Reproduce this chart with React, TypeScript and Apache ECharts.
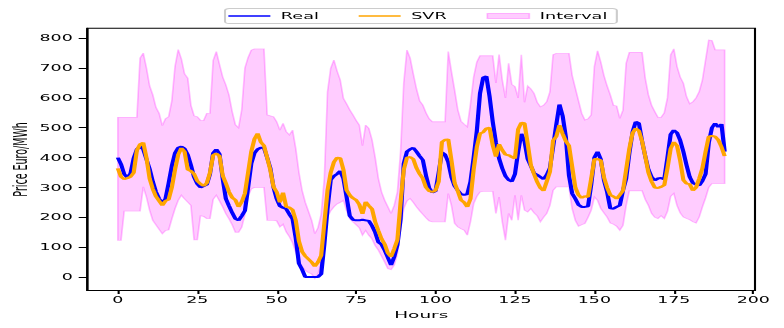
import React, { useEffect, useRef } from 'react';
import * as echarts from 'echarts';

// The reference figure is stretched horizontally; we draw at a narrower width and scale the div.
const S = 2.1;
const W = 784 / S;
const H = 328;

const hours = Array.from({ length: 192 }, (_, i) => i);

const real = [
  400, 378, 345, 333, 347, 398, 428, 437, 428, 395, 362, 320,
  285, 262, 248, 262, 315, 372, 415, 433, 437, 430, 410, 375,
  335, 312, 300, 305, 310, 345, 415, 428, 412, 330, 262, 238,
  215, 195, 190, 205, 222, 300, 380, 415, 428, 433, 433, 400,
  365, 300, 262, 238, 232, 228, 210, 195, 130, 45, 25, 0,
  0, 0, 0, 0, 10, 110, 230, 325, 338, 345, 355, 330,
  268, 205, 192, 190, 190, 192, 190, 188, 172, 150, 117, 109,
  90, 65, 40, 68, 108, 195, 380, 420, 428, 433, 420, 405,
  392, 340, 298, 283, 288, 350, 418, 410, 385, 335, 305, 290,
  278, 275, 278, 320, 400, 490, 615, 668, 672, 605, 520, 450,
  397, 364, 338, 325, 320, 345, 420, 480, 455, 395, 372, 348,
  342, 335, 328, 342, 365, 436, 510, 578, 540, 470, 340, 280,
  262, 242, 235, 235, 237, 310, 400, 420, 395, 325, 285, 230,
  229, 235, 240, 290, 330, 415, 485, 520, 515, 455, 405, 360,
  335, 324, 330, 332, 327, 400, 478, 492, 483, 458, 420, 375,
  335, 315, 310, 307, 322, 345, 450, 500, 515, 502, 512, 420,
];

const svr = [
  364, 336, 328, 331, 336, 350, 425, 445, 450, 400, 330, 295,
  270, 255, 240, 255, 260, 300, 360, 410, 432, 420, 360, 355,
  345, 322, 312, 305, 315, 350, 408, 414, 405, 340, 314, 285,
  266, 258, 235, 252, 280, 350, 420, 462, 481, 452, 440, 400,
  358, 302, 285, 250, 283, 235, 233, 225, 190, 120, 85, 70,
  60, 50, 36, 50, 72, 180, 290, 350, 385, 400, 398, 360,
  291, 274, 264, 258, 243, 212, 252, 239, 228, 185, 155, 128,
  110, 80, 68, 95, 125, 250, 360, 400, 402, 395, 365, 345,
  330, 300, 288, 285, 290, 320, 452, 460, 461, 391, 315, 288,
  258, 250, 235, 262, 360, 436, 481, 485, 498, 500, 442, 403,
  445, 425, 410, 408, 402, 397, 495, 517, 515, 447, 375, 345,
  318, 298, 289, 320, 352, 458, 470, 509, 480, 455, 440, 370,
  300, 275, 265, 271, 268, 330, 395, 395, 391, 335, 300, 275,
  270, 262, 275, 289, 360, 430, 482, 498, 490, 455, 405, 350,
  320, 300, 298, 302, 308, 365, 430, 452, 440, 390, 325, 313,
  311, 290, 300, 330, 365, 420, 470, 473, 470, 459, 436, 405,
];

const upper = [
  535, 535, 535, 535, 535, 535, 535, 733, 750, 700, 640, 610,
  568, 548, 507, 530, 537, 590, 705, 762, 730, 680, 666, 575,
  540, 537, 525, 524, 548, 548, 725, 755, 712, 670, 643, 609,
  553, 510, 500, 560, 700, 735, 760, 764, 764, 764, 764, 543,
  540, 537, 520, 492, 515, 487, 476, 492, 430, 350, 290, 250,
  220, 190, 145, 165, 210, 330, 620, 699, 727, 690, 660, 598,
  580, 560, 543, 525, 509, 440, 509, 498, 460, 400, 330, 285,
  257, 235, 213, 240, 285, 420, 650, 760, 733, 680, 630, 590,
  576, 550, 530, 520, 520, 520, 520, 520, 755, 688, 626, 560,
  522, 512, 503, 580, 670, 720, 741, 741, 741, 741, 741, 650,
  745, 660, 600, 716, 645, 638, 600, 744, 585, 640, 630, 615,
  585, 570, 575, 587, 620, 745, 749, 749, 749, 749, 749, 675,
  632, 590, 548, 526, 530, 543, 705, 758, 720, 675, 640, 610,
  575, 573, 531, 559, 716, 752, 752, 752, 752, 752, 666, 610,
  575, 554, 535, 535, 550, 600, 744, 764, 705, 670, 649, 604,
  580, 587, 600, 621, 660, 727, 794, 792, 761, 761, 761, 761,
];

const lower = [
  123, 123, 221, 221, 221, 221, 221, 221, 302, 268, 224, 190,
  175, 160, 145, 156, 158, 195, 229, 257, 274, 262, 251, 240,
  125, 125, 205, 203, 196, 196, 260, 274, 255, 235, 212, 195,
  175, 150, 150, 167, 210, 270, 295, 300, 300, 300, 300, 190,
  190, 190, 188, 168, 177, 151, 135, 115, 83, 55, 35, 22,
  15, 10, -5, 10, 44, 123, 201, 222, 235, 245, 250, 257,
  222, 195, 185, 175, 165, 140, 156, 140, 128, 105, 90, 70,
  50, 28, 25, 40, 78, 157, 230, 255, 263, 250, 235, 222,
  210, 198, 188, 185, 185, 185, 185, 185, 280, 240, 180, 168,
  162, 157, 140, 185, 246, 270, 285, 287, 287, 287, 287, 213,
  268, 185, 123, 213, 190, 274, 190, 274, 224, 218, 229, 215,
  205, 185, 200, 213, 240, 290, 302, 302, 302, 302, 302, 229,
  190, 170, 175, 179, 200, 224, 268, 257, 230, 215, 201, 181,
  177, 170, 157, 173, 240, 289, 289, 289, 289, 289, 260, 240,
  213, 200, 196, 205, 196, 220, 270, 280, 240, 215, 201, 196,
  192, 185, 181, 201, 235, 265, 300, 313, 313, 313, 313, 313,
];

const xTicks = [0, 25, 50, 75, 100, 125, 150, 175, 200];
const yTicks = [0, 100, 200, 300, 400, 500, 600, 700, 800];

export default function App() {
  const ref = useRef<HTMLDivElement>(null);

  useEffect(() => {
    if (!ref.current) return;
    const chart = echarts.init(ref.current, null, { renderer: 'svg', width: W, height: H });
    const font = 'DejaVu Sans';
    const pair = (arr: number[]) => hours.map((h, i) => [h, arr[i]]);
    const edge = 'rgba(255,0,255,0.25)';
    const fill = 'rgba(255,0,255,0.2)';
    const lineIcon = 'path://M0,0H200V14H0Z';

    chart.setOption({
      animation: false,
      grid: {
        left: 87.5 / S,
        right: W - 755 / S,
        top: 28.3,
        bottom: 37.5,
        containLabel: false,
        outerBoundsMode: 'none',
        show: true,
        borderColor: '#000',
        borderWidth: 1,
        backgroundColor: 'transparent',
      },
      legend: {
        left: 225 / S,
        top: 8.5,
        orient: 'horizontal',
        padding: [3.5, 4.6, 3.5, 1.6],
        itemGap: 19,
        itemWidth: 20,
        itemHeight: 5,
        backgroundColor: 'rgba(255,255,255,0.8)',
        borderColor: '#cccccc',
        borderWidth: 1,
        borderRadius: 2,
        selectedMode: false,
        textStyle: { fontFamily: font, fontSize: 8.4, color: '#000' },
        data: [
          { name: 'Real', icon: lineIcon, itemStyle: { color: '#0000ff', borderWidth: 0, borderColor: 'transparent' } },
          { name: 'SVR', icon: lineIcon, itemStyle: { color: '#ffa500', borderWidth: 0, borderColor: 'transparent' } },
          { name: 'Interval', icon: 'rect', itemStyle: { color: fill, borderColor: edge, borderWidth: 0.8 } },
        ],
      },
      xAxis: {
        type: 'value',
        min: -9.55,
        max: 200.55,
        axisLine: { show: true, onZero: false, lineStyle: { color: '#000', width: 1 } },
        axisTick: { show: true, length: 3.5, customValues: xTicks, lineStyle: { color: '#000', width: 1 } },
        axisLabel: { customValues: xTicks, margin: 5, fontFamily: font, fontSize: 8.3, color: '#000' },
        splitLine: { show: false },
        name: 'Hours',
        nameLocation: 'middle',
        nameGap: 20,
        nameMoveOverlap: false,
        nameTextStyle: { fontFamily: font, fontSize: 8.8, color: '#000' },
      },
      yAxis: {
        type: 'value',
        min: -45,
        max: 833,
        axisLine: { show: true, onZero: false, lineStyle: { color: '#000', width: 1 } },
        axisTick: { show: true, length: 4.2, customValues: yTicks, lineStyle: { color: '#000', width: 1 } },
        axisLabel: { customValues: yTicks, margin: 7, fontFamily: font, fontSize: 8.3, color: '#000' },
        splitLine: { show: false },
        name: 'Price Euro/MWh',
        nameLocation: 'middle',
        nameGap: 27,
        nameMoveOverlap: false,
        nameTextStyle: { fontFamily: font, fontSize: 9.5, color: '#000' },
      },
      series: [
        {
          type: 'custom',
          name: 'Interval',
          data: hours.map((h, i) => [h, lower[i], upper[i]]),
          encode: { x: 0, y: [1, 2] },
          silent: true,
          clip: true,
          color: fill,
          z: 1,
          renderItem: (params: any, api: any) => {
            if (params.dataIndex !== 0) return { type: 'group', children: [] };
            const top = hours.map((h, i) => api.coord([h, upper[i]]));
            const bot = hours.map((h, i) => api.coord([h, lower[i]])).reverse();
            return {
              type: 'polygon',
              shape: { points: top.concat(bot) },
              style: { fill, stroke: edge, lineWidth: 0.8 },
            };
          },
        },
        {
          type: 'line',
          name: 'Real',
          data: pair(real),
          symbol: 'none',
          color: '#0000ff',
          lineStyle: { color: '#0000ff', width: 2 },
          z: 2,
        },
        {
          type: 'line',
          name: 'SVR',
          data: pair(svr),
          symbol: 'none',
          color: '#ffa500',
          lineStyle: { color: '#ffa500', width: 2 },
          z: 3,
        },
      ],
    });

    return () => chart.dispose();
  }, []);

  return (
    <div
      ref={ref}
      style={{
        position: 'fixed',
        left: 0,
        top: 0,
        width: W,
        height: H,
        transform: `scaleX(${S})`,
        transformOrigin: '0 0',
      }}
    />
  );
}
